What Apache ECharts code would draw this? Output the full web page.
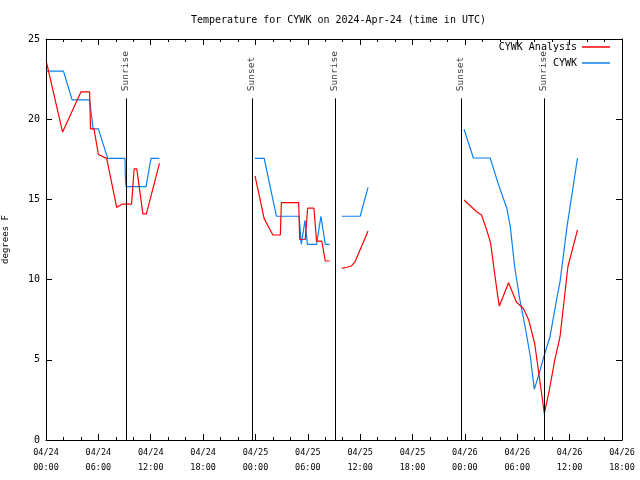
<!DOCTYPE html>
<html>
<head>
<meta charset="utf-8">
<script src="https://cdn.jsdelivr.net/npm/echarts@6/dist/echarts.min.js"></script>
<style>html,body{margin:0;padding:0;background:#fff}#c{width:640px;height:480px}</style>
</head>
<body>
<div id="c"></div>
<script>
// Hours since 2024-04-24 00:00 UTC; null marks a gap in the record
const analysisHours = [0.08, 1.9, 4.0, 5.0, 5.1, 5.5, 6.0, 6.95, 8.1, 8.7, 9.8, 10.1, 10.4, 11.1, 11.5, 13.0, null,
  23.95, 25.0, 26.0, 26.85, 26.97, 28.95, 29.07, 29.7, 29.98, 30.7, 31.0, 31.6, 32.0, 32.5, null,
  33.9, 34.45, 35.0, 35.4, 36.9, null,
  47.9, 49.35, 49.9, 50.5, 50.95, 51.4, 51.8, 51.95, 53.0, 53.9, 54.7, 55.3, 56.0, 57.1, 57.6, 58.3, 58.9, 59.8, 60.9];
const analysisTemps = [23.5, 19.2, 21.7, 21.7, 19.4, 19.4, 17.8, 17.56, 14.5, 14.7, 14.7, 16.9, 16.9, 14.1, 14.1, 17.25, null,
  16.46, 13.8, 12.78, 12.78, 14.8, 14.8, 12.5, 12.5, 14.45, 14.45, 12.4, 12.4, 11.16, 11.16, null,
  10.7, 10.77, 10.85, 11.1, 13.03, null,
  14.96, 14.23, 14.03, 13.1, 12.26, 10.4, 8.83, 8.35, 9.8, 8.6, 8.2, 7.5, 6.0, 1.66, 2.9, 5.0, 6.44, 10.8, 13.1];

const obsHours = [0.08, 2.0, 3.0, 5.0, 5.4, 6.0, 7.07, 9.05, 9.1, 9.17, 11.46, 12.03, 13.0, null,
  23.95, 25.0, 26.4, 29.0, 29.25, 29.68, 29.95, 31.0, 31.5, 32.0, 32.5, null,
  33.9, 36.0, 36.9, null,
  47.9, 48.97, 50.9, 51.8, 52.8, 53.2, 53.7, 54.3, 54.9, 55.5, 55.95, 56.4, 57.1, 57.75, 58.5, 58.9, 59.7, 60.4, 60.9];
const obsTemps = [23.0, 23.0, 21.2, 21.2, 19.4, 19.4, 17.56, 17.56, 16.3, 15.8, 15.8, 17.56, 17.56, null,
  17.56, 17.56, 13.95, 13.95, 12.2, 13.7, 12.2, 12.2, 13.95, 12.2, 12.2, null,
  13.95, 13.95, 15.75, null,
  19.37, 17.58, 17.58, 16.0, 14.45, 13.3, 10.8, 8.73, 7.06, 5.19, 3.16, 3.95, 5.3, 6.44, 8.73, 9.87, 13.3, 15.8, 17.58];

const sunEventHours = [9.17, 23.6, 33.1, 47.55, 57.06];
const sunEventNames = ['Sunrise', 'Sunset', 'Sunrise', 'Sunset', 'Sunrise'];

const xTickLabels = ['04/24\n00:00', '04/24\n06:00', '04/24\n12:00', '04/24\n18:00',
  '04/25\n00:00', '04/25\n06:00', '04/25\n12:00', '04/25\n18:00',
  '04/26\n00:00', '04/26\n06:00', '04/26\n12:00', '04/26\n18:00'];
const yTicks = [0, 5, 10, 15, 20, 25];

const FONT = 'DejaVu Sans Mono';
function pairs(hs, vs) {
  return hs.map((h, i) => h === null ? [hs[i - 1], null] : [h, vs[i]]);
}

const sunLine = 21.3, sunText = 21.75;
const chart = echarts.init(document.getElementById('c'), null, { renderer: 'canvas' });
function xAxisOpt(pos) {
  return { type: 'value', min: 0, max: 66, interval: 6, position: pos,
    axisLine: { show: true, onZero: false, lineStyle: { color: '#000', width: 1 } },
    splitLine: { show: false },
    axisTick: { show: true, inside: true, length: 6, lineStyle: { color: '#000' } },
    minorTick: { show: true, splitNumber: 3, length: 3, lineStyle: { color: '#000' } } };
}
function yAxisOpt(pos) {
  return { type: 'value', min: yTicks[0], max: yTicks[yTicks.length - 1], interval: 5, position: pos,
    axisLine: { show: true, onZero: false, lineStyle: { color: '#000', width: 1 } },
    splitLine: { show: false },
    axisTick: { show: true, inside: true, length: 6, lineStyle: { color: '#000' } } };
}
const xb = xAxisOpt('bottom');
xb.axisLabel = { fontFamily: FONT, fontSize: 8.5, color: '#000', lineHeight: 15, margin: 5,
  formatter: v => xTickLabels[Math.round(v / 6)] };
const xt = xAxisOpt('top');
xt.axisLabel = { show: false };
const yl = yAxisOpt('left');
yl.name = 'degrees F'; yl.nameLocation = 'middle'; yl.nameGap = 36;
yl.nameTextStyle = { fontFamily: FONT, fontSize: 9, color: '#000' };
yl.axisLabel = { fontFamily: FONT, fontSize: 10, color: '#000', margin: 6 };
const yr = yAxisOpt('right');
yr.axisLabel = { show: false };

chart.setOption({
  animation: false,
  backgroundColor: '#fff',
  title: { text: 'Temperature for CYWK on 2024-Apr-24 (time in UTC)', left: 186, top: 10,
    textStyle: { fontFamily: FONT, fontSize: 10, fontWeight: 'normal', color: '#000' } },
  grid: { left: 46, right: 18, top: 39, bottom: 40, containLabel: false, outerBoundsMode: 'none' },
  legend: [
    { data: ['CYWK Analysis'], right: 30, top: 42, icon: 'rect', itemWidth: 28, itemHeight: 1.5, itemGap: 6,
      align: 'right', padding: 0, textStyle: { fontFamily: FONT, fontSize: 10, color: '#000' } },
    { data: ['CYWK'], right: 30, top: 58, icon: 'rect', itemWidth: 28, itemHeight: 1.5, itemGap: 6,
      align: 'right', padding: 0, textStyle: { fontFamily: FONT, fontSize: 10, color: '#000' } }
  ],
  xAxis: [xb, xt],
  yAxis: [yl, yr],
  series: [
    { name: 'CYWK Analysis', type: 'line', symbol: 'none', connectNulls: false,
      lineStyle: { color: '#ff0000', width: 1.2 }, itemStyle: { color: '#ff0000' },
      data: pairs(analysisHours, analysisTemps), z: 3 },
    { name: 'CYWK', type: 'line', symbol: 'none', connectNulls: false,
      lineStyle: { color: '#0a7ff0', width: 1.2 }, itemStyle: { color: '#0a7ff0' },
      data: pairs(obsHours, obsTemps), z: 2 },
    { name: 'sun', type: 'scatter', symbolSize: 0, silent: true,
      data: sunEventHours.map((h, i) => ({ value: [h, sunText], name: sunEventNames[i] })),
      label: { show: true, position: 'inside', rotate: 90, align: 'left', verticalAlign: 'middle',
        formatter: p => p.name, fontFamily: FONT, fontSize: 9.5, color: '#000' },
      markLine: { silent: true, symbol: 'none', label: { show: false },
        lineStyle: { color: '#000', width: 1, type: 'solid' },
        data: sunEventHours.map(h => [{ coord: [h, 0] }, { coord: [h, sunLine] }]) } }
  ]
});
</script>
</body>
</html>
